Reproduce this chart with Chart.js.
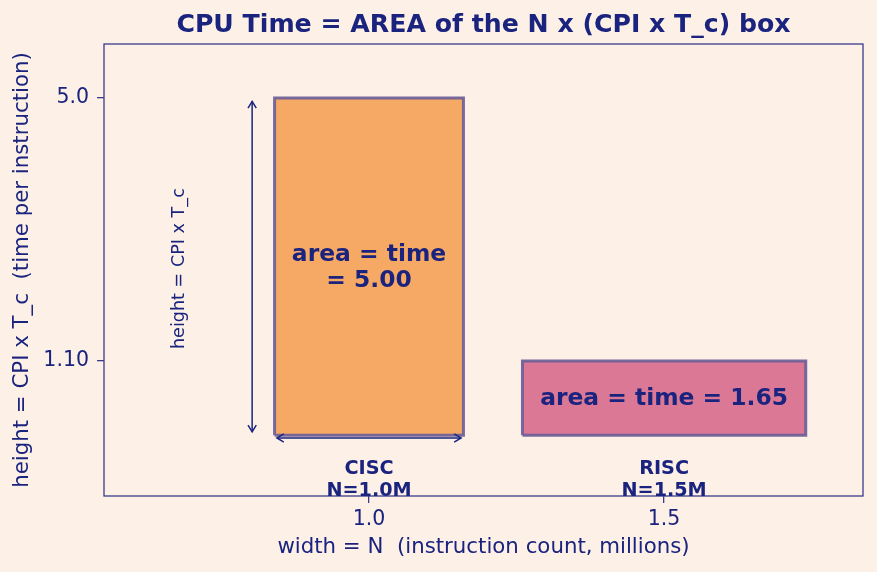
<!DOCTYPE html>
<html>
<head>
<meta charset="utf-8">
<script src="https://cdn.jsdelivr.net/npm/chart.js@4.4.1/dist/chart.umd.min.js"></script>
<style>
  html, body { margin: 0; padding: 0; background: #fdf1e7; }
  canvas { display: block; }
</style>
</head>
<body>
<canvas id="cpuBox" width="877" height="572"></canvas>
<script>
// data
var archNames = ['CISC', 'RISC'];
var instrCount = [1.0, 1.5];          // N, millions (also x position)
var timePerInstr = [5.0, 1.10];       // CPI x T_c
var xTicks = [1.0, 1.5];
var xTickLabels = ['1.0', '1.5'];
var yTicks = [1.10, 5.0];
var yTickLabels = ['1.10', '5.0'];

var NAVY = '#1a237e';
var FRAME = '#3b3b8b';
var fills = ['#f5a965', '#db7896'];
var edge = 'rgba(105, 92, 150, 0.9)';
var BOX_W = 0.32;   // drawn width per million instructions

// each box: a top edge filled down to y = 0, then the outline on top
var datasets = [];
archNames.forEach(function (name, i) {
  var half = instrCount[i] * BOX_W / 2;
  var x0 = instrCount[i] - half, x1 = instrCount[i] + half, h = timePerInstr[i];
  datasets.push({
    label: name,
    data: [{x: x0, y: h}, {x: x1, y: h}],
    fill: 'origin',
    backgroundColor: fills[i],
    borderWidth: 0,
    pointRadius: 0,
    order: 2
  });
  datasets.push({
    label: name + ' edge',
    data: [{x: x0, y: 0}, {x: x0, y: h}, {x: x1, y: h}, {x: x1, y: 0}, {x: x0, y: 0}],
    fill: false,
    borderColor: edge,
    borderWidth: 3,
    pointRadius: 0,
    tension: 0,
    order: 1
  });
});

function arrowHead(ctx, x, y, ang) {
  var s = 8;
  ctx.beginPath();
  ctx.moveTo(x + s * Math.cos(ang + 2.6), y + s * Math.sin(ang + 2.6));
  ctx.lineTo(x, y);
  ctx.lineTo(x + s * Math.cos(ang - 2.6), y + s * Math.sin(ang - 2.6));
  ctx.stroke();
}
function arrow(ctx, xa, ya, xb, yb) {
  ctx.beginPath();
  ctx.moveTo(xa, ya);
  ctx.lineTo(xb, yb);
  ctx.stroke();
  var ang = Math.atan2(yb - ya, xb - xa);
  arrowHead(ctx, xb, yb, ang);
  arrowHead(ctx, xa, ya, ang + Math.PI);
}

var annot = {
  id: 'annot',
  afterDatasetsDraw: function (chart) {
    var ctx = chart.ctx, xs = chart.scales.x, ys = chart.scales.y, a = chart.chartArea;
    ctx.save();
    // frame
    ctx.strokeStyle = FRAME;
    ctx.lineWidth = 1.3;
    ctx.strokeRect(a.left, a.top, a.right - a.left, a.bottom - a.top);

    ctx.fillStyle = NAVY;
    ctx.textAlign = 'center';
    ctx.textBaseline = 'middle';
    // title, centred over the plot area
    ctx.font = 'bold 25.2px "DejaVu Sans"';
    ctx.fillText('CPU Time = AREA of the N x (CPI x T_c) box', (a.left + a.right) / 2, 25);

    archNames.forEach(function (name, i) {
      var cx = xs.getPixelForValue(instrCount[i]);
      var area = (instrCount[i] * timePerInstr[i]).toFixed(2);
      var cy = ys.getPixelForValue(timePerInstr[i] / 2);
      ctx.font = 'bold 23.4px "DejaVu Sans"';
      if (i === 0) {
        ctx.fillText('area = time', cx, cy - 12);
        ctx.fillText('= ' + area, cx, cy + 14);
      } else {
        ctx.fillText('area = time = ' + area, cx, cy + 1);
      }
      ctx.font = 'bold 19.2px "DejaVu Sans"';
      var ly = ys.getPixelForValue(-0.5);
      ctx.fillText(name, cx, ly);
      ctx.fillText('N=' + instrCount[i].toFixed(1) + 'M', cx, ly + 22);
    });

    // dimension arrows on the CISC box
    var half = instrCount[0] * BOX_W / 2;
    ctx.strokeStyle = NAVY;
    ctx.lineWidth = 1.5;
    var ax = xs.getPixelForValue(instrCount[0] - half - 0.038);
    arrow(ctx, ax, ys.getPixelForValue(timePerInstr[0] - 0.05), ax, ys.getPixelForValue(0.05));
    var ay = ys.getPixelForValue(-0.04);
    arrow(ctx, xs.getPixelForValue(instrCount[0] - half + 0.004), ay,
               xs.getPixelForValue(instrCount[0] + half - 0.004), ay);

    ctx.save();
    ctx.translate(xs.getPixelForValue(instrCount[0] - half - 0.161), ys.getPixelForValue(timePerInstr[0] / 2) + 2);
    ctx.rotate(-Math.PI / 2);
    ctx.font = '17.6px "DejaVu Sans"';
    ctx.fillText('height = CPI x T_c', 0, 0);
    ctx.restore();
    ctx.restore();
  }
};

var ctx = document.getElementById('cpuBox').getContext('2d');
var chart = new Chart(ctx, {
  type: 'line',
  data: { datasets: datasets },
  plugins: [annot],
  options: {
    responsive: false,
    animation: false,
    devicePixelRatio: 1,
    layout: { padding: { left: 0, right: 14, top: 44, bottom: 0 } },
    plugins: {
      legend: { display: false },
      tooltip: { enabled: false },
      title: { display: false }
    },
    scales: {
      x: {
        type: 'linear',
        min: 0.551,
        max: 1.837,
        afterBuildTicks: function (s) { s.ticks = xTicks.map(function (v) { return {value: v}; }); },
        afterFit: function (s) { s.height = 76; },
        ticks: {
          color: NAVY,
          font: { family: 'DejaVu Sans', size: 20.5 },
          padding: 4,
          maxRotation: 0,
          callback: function (v, i) { return xTickLabels[i]; }
        },
        grid: { display: true, drawOnChartArea: false, tickLength: 7, lineWidth: 1.3, color: FRAME },
        border: { display: false },
        title: {
          display: true,
          text: 'width = N  (instruction count, millions)',
          color: NAVY,
          font: { family: 'DejaVu Sans', size: 21.3, lineHeight: 1.2 },
          padding: { top: 0, bottom: 11.4 }
        }
      },
      y: {
        type: 'linear',
        min: -0.9,
        max: 5.8,
        afterBuildTicks: function (s) { s.ticks = yTicks.map(function (v) { return {value: v}; }); },
        afterFit: function (s) { s.width = 104; },
        ticks: {
          color: NAVY,
          font: { family: 'DejaVu Sans', size: 20.5 },
          padding: 8,
          callback: function (v, i) { return yTickLabels[i]; }
        },
        grid: { display: true, drawOnChartArea: false, tickLength: 7, lineWidth: 1.3, color: FRAME },
        border: { display: false },
        title: {
          display: true,
          text: 'height = CPI x T_c  (time per instruction)',
          color: NAVY,
          font: { family: 'DejaVu Sans', size: 21.3, lineHeight: 1.2 },
          padding: { top: 9.4, bottom: 0 }
        }
      }
    }
  }
});
</script>
</body>
</html>
